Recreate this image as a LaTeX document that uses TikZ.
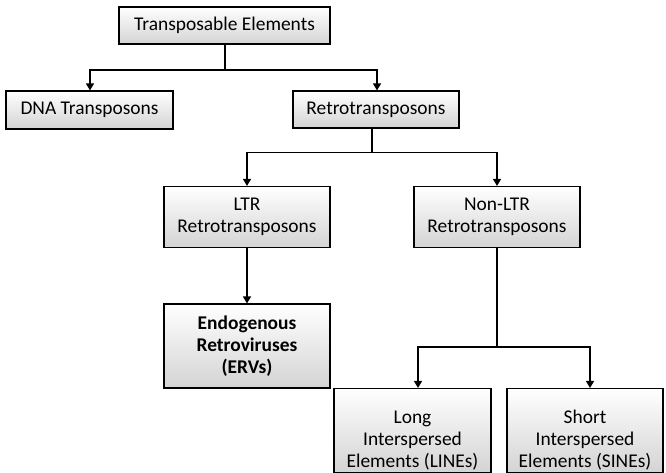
\documentclass[tikz,border=0pt]{standalone}
\usepackage{fontspec}
\setmainfont{Carlito}
\usetikzlibrary{arrows.meta}
\begin{document}
\begin{tikzpicture}[x=1bp,y=-1bp,
  box/.style={draw=black, line width=1.1bp, top color=white, bottom color=black!17,
    align=center, inner sep=2bp, font=\fontsize{19.5}{22}\selectfont},
  lowbox/.style={box, inner ysep=0bp},
  conn/.style={line width=1.3bp},
  arr/.style={conn, -{Triangle[length=7bp,width=8bp]}}]
\useasboundingbox (0,0) rectangle (666,473);
\node[box, minimum width=211bp, minimum height=37bp] (te) at (224.5,25.5) {Transposable Elements};
\node[box, minimum width=167bp, minimum height=38bp] (dna) at (89.5,110) {DNA Transposons};
\node[box, minimum width=166bp, minimum height=37bp] (rt) at (376,109.5) {Retrotransposons};
\node[box, minimum width=166bp, minimum height=61bp] (ltr) at (247,217) {LTR\\Retrotransposons};
\node[box, minimum width=166bp, minimum height=61bp] (nltr) at (497,217) {Non-LTR\\Retrotransposons};
\node[box, minimum width=166bp, minimum height=84bp] (erv) at (247,346) {\textbf{Endogenous}\\\textbf{Retroviruses}\\\textbf{(ERVs)}};
\node[lowbox, minimum width=157bp, minimum height=84bp] (lines) at (412.5,430.5) {\rule{0pt}{33bp}Long\\Interspersed\\Elements (LINEs)};
\node[lowbox, minimum width=156bp, minimum height=84bp] (sines) at (585,430.5) {\rule{0pt}{33bp}Short\\Interspersed\\Elements (SINEs)};
\coordinate (j1) at (225,70);
\coordinate (j2) at (372,152.5);
\coordinate (j3) at (497,347);
\draw[conn] (te.south -| j1) -- (j1);
\draw[arr] (j1) -| (dna.north -| 90,0);
\draw[arr] (j1) -| (rt.north -| 377,0);
\draw[conn] (rt.south -| j2) -- (j2);
\draw[arr] (j2) -| (ltr.north);
\draw[arr] (j2) -| (nltr.north);
\draw[arr] (ltr.south) -- (erv.north);
\draw[conn] (nltr.south) -- (j3);
\draw[arr] (j3) -| (lines.north -| 418,0);
\draw[arr] (j3) -| (sines.north -| 590,0);
\end{tikzpicture}
\end{document}
